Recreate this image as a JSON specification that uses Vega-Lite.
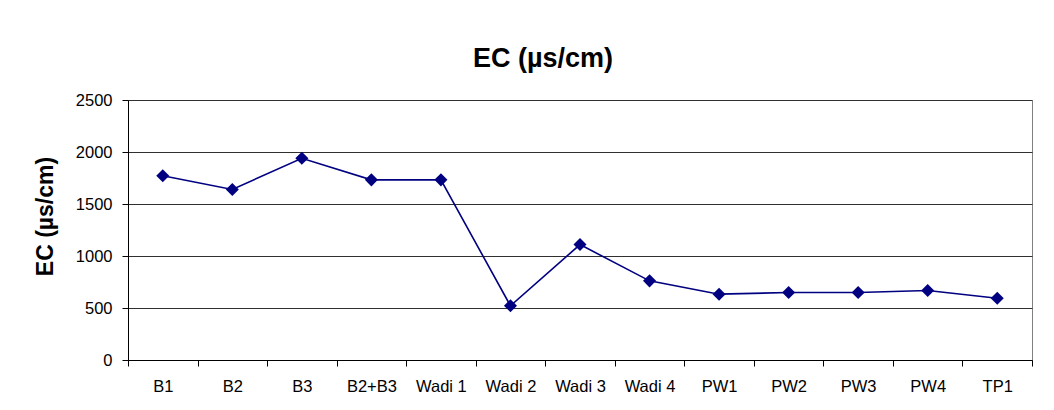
{
  "$schema": "https://vega.github.io/schema/vega-lite/v6.json",
  "autosize": {"type": "none"},
  "padding": {"left": 128, "top": 100, "right": 22, "bottom": 50},
  "width": 904,
  "height": 260,
  "background": "white",
  "title": {
    "text": "EC (µs/cm)",
    "font": "Liberation Sans",
    "fontSize": 27,
    "fontWeight": "bold",
    "color": "black",
    "anchor": "middle",
    "dx": -37,
    "offset": 19
  },
  "config": {
    "view": {"stroke": "#808080", "strokeWidth": 1},
    "axis": {"labelFont": "Liberation Sans", "titleFont": "Liberation Sans", "labelColor": "black", "titleColor": "black", "domainColor": "black", "tickColor": "black"}
  },
  "data": {
    "values": [
      {"site": "B1", "ec": 1771},
      {"site": "B2", "ec": 1640},
      {"site": "B3", "ec": 1940},
      {"site": "B2+B3", "ec": 1732},
      {"site": "Wadi 1", "ec": 1732},
      {"site": "Wadi 2", "ec": 521},
      {"site": "Wadi 3", "ec": 1110},
      {"site": "Wadi 4", "ec": 761},
      {"site": "PW1", "ec": 633},
      {"site": "PW2", "ec": 649},
      {"site": "PW3", "ec": 649},
      {"site": "PW4", "ec": 668},
      {"site": "TP1", "ec": 594}
    ]
  },
  "encoding": {
    "x": {
      "field": "site", "type": "nominal", "sort": null,
      "scale": {"type": "band", "paddingInner": 0, "paddingOuter": 0},
      "axis": {"title": null, "labelAngle": 0, "labelFontSize": 16.5, "tickSize": 6, "tickBand": "extent", "labelPadding": 12, "grid": false, "domainWidth": 1}
    },
    "y": {
      "field": "ec", "type": "quantitative",
      "scale": {"domain": [0, 2500], "nice": false},
      "axis": {"title": "EC (µs/cm)", "titleFontSize": 23, "titleFontWeight": "bold", "titlePadding": 18, "titleY": 116, "values": [0, 500, 1000, 1500, 2000, 2500], "format": "d", "labelFontSize": 16.5, "tickSize": 6, "labelPadding": 10, "grid": true, "gridColor": "#303030", "gridOpacity": 1, "gridWidth": 1}
    }
  },
  "layer": [
    {"mark": {"type": "line", "color": "#000080", "strokeWidth": 1.6}},
    {"mark": {"type": "point", "shape": "diamond", "filled": true, "color": "#000080", "opacity": 1, "size": 170}}
  ]
}
